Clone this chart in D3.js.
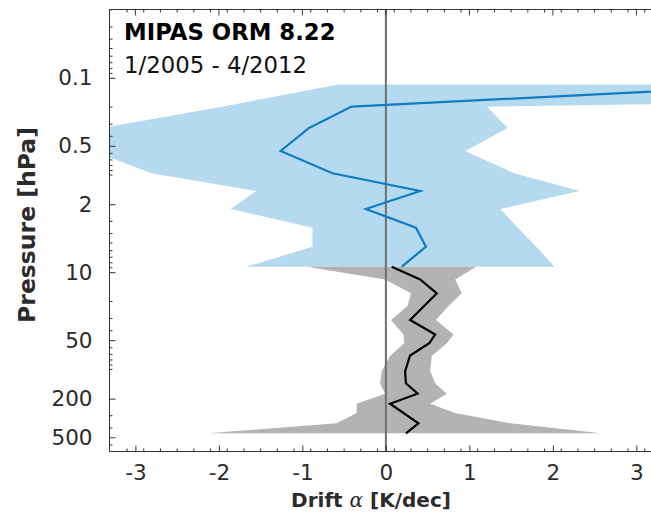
<!DOCTYPE html>
<html>
<head>
<meta charset="utf-8">
<script src="https://cdn.jsdelivr.net/npm/d3@7"></script>
<style>
  html, body { margin: 0; padding: 0; background: #fff; }
  svg { display: block; font-family: "DejaVu Sans", sans-serif; }
</style>
</head>
<body>
<svg id="chart" width="651" height="512"></svg>
<script>
// Upper profile (MIPAS, middle atmosphere): pressure levels [hPa]
const upperPressure = [0.117, 0.198, 0.328, 0.566, 0.961, 1.461, 2.238, 3.485, 5.467, 8.78];
const upperDrift    = [4.9, -0.41, -0.92, -1.26, -0.64, 0.41, -0.24, 0.36, 0.48, 0.19];
const upperLow      = [-0.57, -1.96, -3.4, -3.5, -2.81, -1.55, -1.86, -0.88, -0.88, -1.67];
const upperHigh     = [20, 1.21, 1.46, 0.95, 1.54, 2.32, 1.37, 1.58, 1.80, 2.02];

// Lower profile (stratosphere / troposphere): drift line
const lowerLinePressure = [8.78, 11.89, 16.49, 31.02, 43.74, 53.9, 71.9, 105.1, 139.0, 177.8, 225.4, 358.5, 454.3];
const lowerDrift        = [0.07, 0.41, 0.61, 0.29, 0.59, 0.52, 0.29, 0.23, 0.24, 0.38, 0.05, 0.39, 0.24];

// Lower profile: uncertainty range
const lowerBandPressure = [8.78, 11.89, 16.49, 22.27, 31.02, 43.74, 53.9, 72.8, 103.9, 139.0, 177.8, 225.4, 280.9, 358.5, 454.3];
const lowerLow          = [-0.95, -0.01, 0.30, 0.26, 0.06, 0.21, 0.22, 0.05, -0.05, -0.07, -0.01, -0.35, -0.35, -0.59, -2.13];
const lowerHigh         = [1.08, 0.83, 0.91, 0.75, 0.60, 0.81, 0.73, 0.55, 0.53, 0.59, 0.73, 0.53, 0.83, 1.49, 2.58];

// Axis ticks
const xTicks = [-3, -2, -1, 0, 1, 2, 3];
const yTicks = [0.1, 0.5, 2, 10, 50, 200, 500];

const titleLine1 = "MIPAS ORM 8.22";
const titleLine2 = "1/2005 - 4/2012";

const svg = d3.select("#chart");
const pLeft = 109.5, pTop = 9.5, pBottom = 451.5, pRight = 660.6;

const x = d3.scaleLinear().domain([-3.31, 3.29]).range([pLeft, pRight]);
const y = d3.scaleLog().domain([0.01983, 699.5]).range([pTop, pBottom]);

svg.append("defs").append("clipPath").attr("id", "plotClip")
  .append("rect").attr("x", pLeft).attr("y", pTop)
  .attr("width", pRight - pLeft).attr("height", pBottom - pTop);

const plot = svg.append("g").attr("clip-path", "url(#plotClip)");

const band = d3.area()
  .y(d => y(d.p)).x0(d => x(d.lo)).x1(d => x(d.hi))
  .curve(d3.curveLinear);

const upperRows = upperPressure.map((p, i) => ({ p, lo: upperLow[i], hi: upperHigh[i], v: upperDrift[i] }));
const lowerRows = lowerBandPressure.map((p, i) => ({ p, lo: lowerLow[i], hi: lowerHigh[i] }));
const lowerLine = lowerLinePressure.map((p, i) => ({ p, v: lowerDrift[i] }));

plot.append("path").datum(upperRows).attr("d", band).attr("fill", "#b5d9ee");
plot.append("path").datum(lowerRows).attr("d", band).attr("fill", "#b3b3b3");

// zero drift reference
plot.append("line")
  .attr("x1", x(0)).attr("x2", x(0)).attr("y1", pTop).attr("y2", pBottom)
  .attr("stroke", "#6e6e6e").attr("stroke-width", 2);

const line = d3.line().x(d => x(d.v)).y(d => y(d.p));
plot.append("path").datum(upperRows).attr("d", line)
  .attr("fill", "none").attr("stroke", "#0f7cc4").attr("stroke-width", 2.2)
  .attr("stroke-linejoin", "miter");
plot.append("path").datum(lowerLine).attr("d", line)
  .attr("fill", "none").attr("stroke", "#000").attr("stroke-width", 2.2);

// Axes frame
const axisColor = "#333";
const frame = svg.append("g").attr("stroke", axisColor).attr("stroke-width", 1).attr("fill", "none");
frame.append("line").attr("x1", pLeft).attr("x2", pLeft).attr("y1", pTop).attr("y2", pBottom);
frame.append("line").attr("x1", pLeft).attr("x2", 651).attr("y1", pBottom).attr("y2", pBottom);
frame.append("line").attr("x1", pLeft).attr("x2", 651).attr("y1", pTop).attr("y2", pTop);

// x ticks (bottom & top, pointing inward)
const xMinor = d3.range(-33, 33, 2).map(k => k / 10).filter(v => !xTicks.some(t => Math.abs(t - v) < 1e-6));
const xAxisBottom = d3.axisBottom(x).tickValues(xTicks).tickSizeInner(-6).tickSizeOuter(0)
  .tickFormat(d => String(d));
const gxb = svg.append("g").attr("transform", `translate(0,${pBottom})`).call(xAxisBottom);
gxb.select(".domain").remove();
gxb.selectAll(".tick line").attr("stroke", axisColor);
gxb.selectAll(".tick text").attr("y", 13).attr("dy", "0.71em")
  .attr("font-size", 21.5).attr("fill", "#2b2b2b").attr("font-family", "DejaVu Sans");

const ticks = svg.append("g").attr("stroke", axisColor).attr("stroke-width", 1);
xMinor.forEach(v => {
  if (x(v) < pLeft + 1) return;
  ticks.append("line").attr("x1", x(v)).attr("x2", x(v)).attr("y1", pBottom).attr("y2", pBottom - 3);
  ticks.append("line").attr("x1", x(v)).attr("x2", x(v)).attr("y1", pTop).attr("y2", pTop + 3);
});
xTicks.forEach(v => {
  ticks.append("line").attr("x1", x(v)).attr("x2", x(v)).attr("y1", pTop).attr("y2", pTop + 6);
});

// y ticks (log axis, left side)
const yAxis = d3.axisLeft(y).tickValues(yTicks).tickSizeInner(-6).tickSizeOuter(0)
  .tickFormat(d => String(d));
const gy = svg.append("g").attr("transform", `translate(${pLeft},0)`).call(yAxis);
gy.select(".domain").remove();
gy.selectAll(".tick line").attr("stroke", axisColor);
gy.selectAll(".tick text").attr("x", -17).attr("font-size", 21.5).attr("fill", "#2b2b2b")
  .attr("font-family", "DejaVu Sans");

const yMinor = [];
[0.01, 0.1, 1, 10, 100].forEach(dec => {
  for (let k = 1; k <= 9; k++) yMinor.push(dec * k);
});
yMinor.filter(v => v >= 0.0199 && v <= 699 && !yTicks.some(t => Math.abs(t - v) / t < 1e-6))
  .forEach(v => {
    ticks.append("line").attr("x1", pLeft).attr("x2", pLeft + 3).attr("y1", y(v)).attr("y2", y(v));
  });

// Axis titles
svg.append("text")
  .attr("transform", `translate(35,225) rotate(-90)`)
  .attr("text-anchor", "middle").attr("font-weight", "bold").attr("font-size", 23.5)
  .attr("fill", "#2b2b2b").text("Pressure [hPa]");

const xt = svg.append("text").attr("x", 371).attr("y", 507)
  .attr("text-anchor", "middle").attr("font-weight", "bold").attr("font-size", 20).attr("fill", "#2b2b2b");
xt.append("tspan").text("Drift ");
xt.append("tspan").attr("font-family", "DejaVu Serif").attr("font-style", "italic").attr("font-weight", "normal").text("α");
xt.append("tspan").text(" [K/dec]");

// Panel annotation
svg.append("text").attr("x", 124).attr("y", 40).attr("font-weight", "bold").attr("font-size", 22.8)
  .attr("fill", "#000").text(titleLine1);
svg.append("text").attr("x", 124).attr("y", 73).attr("font-size", 22.8)
  .attr("fill", "#111").text(titleLine2);
</script>
</body>
</html>
